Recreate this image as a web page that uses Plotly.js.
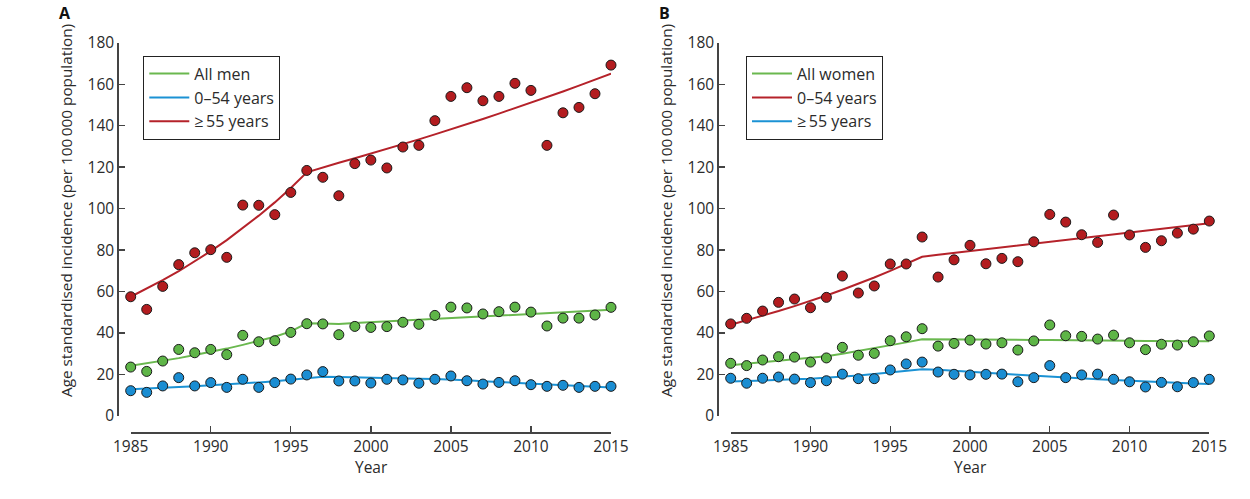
<!DOCTYPE html>
<html>
<head>
<meta charset="utf-8">
<script src="https://cdn.plot.ly/plotly-3.0.1.min.js"></script>
<style>html,body{margin:0;padding:0;background:#fff;}#chart{width:1250px;height:499px;}</style>
</head>
<body>
<div id="chart"></div>
<script>
// ---- Data ----
const years = [1985,1986,1987,1988,1989,1990,1991,1992,1993,1994,1995,1996,1997,1998,1999,2000,2001,2002,2003,2004,2005,2006,2007,2008,2009,2010,2011,2012,2013,2014,2015];
const xTicks = [1985,1990,1995,2000,2005,2010,2015];
const yTicks = [0,20,40,60,80,100,120,140,160,180];

// Panel A – men
const menAll      = [23.6,21.5,26.5,32.1,30.5,32.1,29.6,38.9,35.8,36.3,40.3,44.5,44.4,39.2,43.2,42.7,43.1,45.2,44.2,48.5,52.5,52.1,49.2,50.3,52.5,50.1,43.4,47.2,47.2,48.7,52.4];
const menYoung    = [12.2,11.4,14.5,18.5,14.5,16.1,13.8,17.7,13.8,16.1,17.8,19.8,21.4,16.9,16.9,15.9,17.7,17.4,15.8,17.7,19.3,17.0,15.4,16.2,17.0,15.1,14.3,14.8,13.8,14.3,14.3];
const menOld      = [57.5,51.4,62.5,73.0,78.7,80.2,76.5,101.7,101.6,97.1,107.8,118.4,115.1,106.2,121.7,123.4,119.6,129.7,130.5,142.4,154.1,158.3,152.0,154.1,160.4,157.0,130.5,146.2,148.8,155.4,169.2];
const menAllTrend   = [24.2,25.4,26.6,27.9,29.4,30.9,32.5,34.3,36.2,38.2,40.8,44.7,44.6,44.4,44.8,45.2,45.6,46.0,46.4,46.8,47.2,47.6,48.0,48.4,48.8,49.2,49.6,50.0,50.4,50.8,51.2];
const menYoungTrend = [12.9,13.2,13.6,14.0,14.4,14.8,15.2,15.7,16.2,16.8,17.5,18.3,18.9,18.8,18.7,18.5,18.4,18.2,18.0,17.8,17.6,17.2,16.8,16.4,16.0,15.6,15.2,14.9,14.5,14.2,13.8];
const menOldTrend   = [57.5,61.4,65.5,69.8,74.5,79.5,84.8,90.5,96.6,103.0,109.9,117.5,119.9,122.1,124.3,126.5,128.8,131.1,133.4,135.8,138.2,140.7,143.2,145.8,148.4,151.1,153.8,156.5,159.3,162.2,165.1];

// Panel B – women
const womenAll      = [25.4,24.3,27.0,28.6,28.4,26.0,28.0,33.1,29.3,30.2,36.3,38.2,42.1,33.7,35.0,36.6,34.7,35.3,31.8,36.2,43.9,38.7,38.4,37.1,39.0,35.3,32.0,34.6,34.2,35.8,38.6];
const womenYoung    = [44.4,47.1,50.6,54.8,56.4,52.2,57.2,67.5,59.3,62.7,73.3,73.3,86.3,67.0,75.3,82.3,73.4,76.0,74.4,84.0,97.2,93.5,87.4,83.7,96.9,87.3,81.3,84.5,88.2,90.1,94.0];
const womenOld      = [18.2,15.8,18.2,18.8,17.8,16.1,17.0,20.2,18.0,18.0,22.2,25.1,26.0,21.2,20.1,19.8,20.1,20.2,16.5,18.5,24.3,18.5,19.8,20.2,17.7,16.5,14.0,16.2,14.1,16.1,17.7];
const womenAllTrend   = [24.5,25.2,25.9,26.6,27.3,28.0,28.8,30.0,31.3,32.6,34.0,35.5,37.0,37.0,36.9,36.9,36.8,36.8,36.7,36.7,36.6,36.6,36.5,36.5,36.4,36.3,36.2,36.1,36.0,36.0,36.0];
const womenYoungTrend = [44.0,46.1,48.3,50.6,53.0,55.5,58.1,60.9,63.8,66.8,70.0,73.3,76.8,77.7,78.6,79.5,80.4,81.3,82.2,83.1,84.0,84.9,85.8,86.7,87.6,88.5,89.4,90.3,91.2,92.1,92.9];
const womenOldTrend   = [16.6,16.8,17.1,17.4,17.7,18.0,18.4,18.9,19.5,20.2,21.0,21.8,22.5,22.3,21.9,21.4,20.9,20.4,19.9,19.4,18.9,18.5,18.1,17.7,17.4,17.0,16.7,16.4,16.0,15.7,15.4];

const legendA = ['All men','0\u201354 years','\u2265\u200955 years'];
const legendB = ['All women','0\u201354 years','\u2265\u200955 years'];
const yTitle = 'Age standardised incidence (per 100\u2009000 population)';

// ---- Styles ----
const FONT = '"Open Sans", Lato, sans-serif';
const TXT = '#2b2b2b';
const AXC = '#444444';
const C = {
  green: {line:'#6ab84f', dot:'#5eb547'},
  blue:  {line:'#1b92d4', dot:'#1a8dd2'},
  red:   {line:'#b5222a', dot:'#b31c1f'}
};

function lineTrace(y, name, col, xa, ya, leg, rank){
  return {x: years, y: y, name: name, type:'scatter', mode:'lines',
    line:{color: col.line, width:2}, xaxis: xa, yaxis: ya, legend: leg, legendrank: rank,
    cliponaxis:false, hoverinfo:'skip'};
}
function dotTrace(y, col, xa, ya){
  return {x: years, y: y, type:'scatter', mode:'markers', showlegend:false,
    marker:{color: col.dot, size:10, line:{color:'#1a1a1a', width:1}},
    xaxis: xa, yaxis: ya, cliponaxis:false, hoverinfo:'skip'};
}

const data = [
  lineTrace(menAllTrend,   legendA[0], C.green, 'x','y','legend',1),
  lineTrace(menYoungTrend, legendA[1], C.blue,  'x','y','legend',2),
  lineTrace(menOldTrend,   legendA[2], C.red,   'x','y','legend',3),
  dotTrace(menAll,   C.green, 'x','y'),
  dotTrace(menYoung, C.blue,  'x','y'),
  dotTrace(menOld,   C.red,   'x','y'),
  lineTrace(womenAllTrend,   legendB[0], C.green, 'x2','y2','legend2',1),
  lineTrace(womenYoungTrend, legendB[1], C.red,   'x2','y2','legend2',2),
  lineTrace(womenOldTrend,   legendB[2], C.blue,  'x2','y2','legend2',3),
  dotTrace(womenAll,   C.green, 'x2','y2'),
  dotTrace(womenYoung, C.red,   'x2','y2'),
  dotTrace(womenOld,   C.blue,  'x2','y2')
];

const W = 1250, H = 499;
const px = v => v / W;
const py = v => 1 - v / H;

function xAxis(d0, d1){
  return {domain:[px(d0), px(d1)], range:[1985,2015], anchor:'free', position: py(432.3),
    tickvals: xTicks, ticks:'inside', ticklen:6, tickwidth:1.3, tickcolor:AXC,
    showline:true, linecolor:AXC, linewidth:1.5, showgrid:false, zeroline:false,
    tickfont:{family:FONT, size:15.5, color:TXT}, fixedrange:true};
}
function yAxis(pos){
  return {domain:[py(416), py(42.7)], range:[0,180], anchor:'free', position: px(pos),
    tickvals: yTicks, ticks:'inside', ticklen:6, tickwidth:1.3, tickcolor:AXC,
    showline:true, linecolor:AXC, linewidth:1.5, showgrid:false, zeroline:false,
    tickfont:{family:FONT, size:15.5, color:TXT}, fixedrange:true};
}
function legendBox(x){
  return {x: px(x), y: py(55.7), xanchor:'left', yanchor:'top',
    bordercolor:'#222', borderwidth:1, bgcolor:'rgba(255,255,255,0)', itemwidth:40,
    font:{family:FONT, size:16, color:TXT}, traceorder:'normal', tracegroupgap:0};
}

function ann(text, x, y, size, extra){
  return Object.assign({text:text, x:px(x), y:py(y), xref:'paper', yref:'paper',
    xanchor:'center', yanchor:'middle', showarrow:false,
    font:{family:FONT, size:size, color:TXT}}, extra || {});
}
const annots = [
  ann('A', 65, 0.5, 16, {yanchor:'top', font:{family:FONT, size:16, color:'#111', weight:'bold'}}),
  ann('B', 664, 0.5, 16, {yanchor:'top', font:{family:FONT, size:16, color:'#111', weight:'bold'}}),
  ann(yTitle, 66, 211, 15.3, {textangle:-90}),
  ann(yTitle, 666, 211, 15.3, {textangle:-90}),
  ann('Year', 371, 467, 15.5),
  ann('Year', 970, 467, 15.5)
];

const layout = {
  width: W, height: H,
  margin:{l:0, r:0, t:0, b:0, autoexpand:false},
  paper_bgcolor:'#ffffff', plot_bgcolor:'#ffffff',
  font:{family:FONT, color:TXT},
  showlegend:true,
  xaxis: xAxis(130.7, 611.0),
  yaxis: yAxis(117.3),
  xaxis2: xAxis(730.7, 1209.3),
  yaxis2: yAxis(717.3),
  legend: legendBox(143.3),
  legend2: legendBox(746),
  annotations: annots
};

Plotly.newPlot('chart', data, layout, {staticPlot:true, displayModeBar:false});
</script>
</body>
</html>
